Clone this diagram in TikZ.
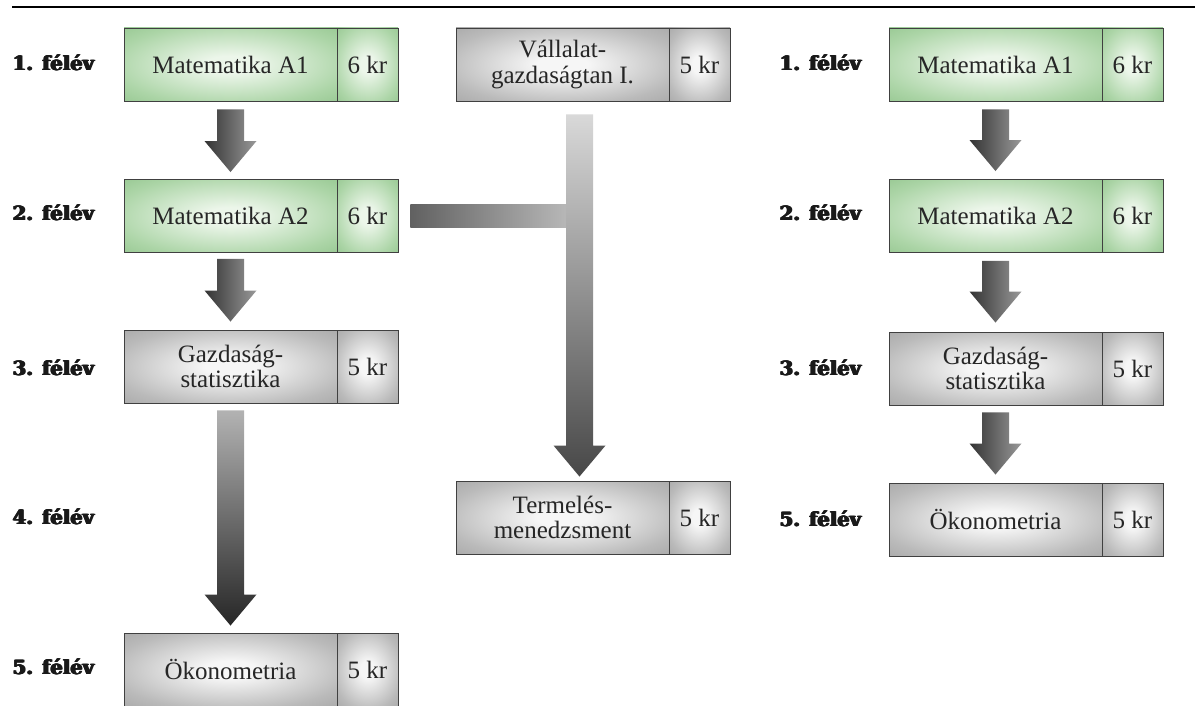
\documentclass[tikz,border=0pt]{standalone}
\usepackage{fontspec}
\setmainfont{Liberation Serif}
\newfontfamily\semfont{DejaVu Serif}[UprightFont={* Bold}]
\usetikzlibrary{calc}

\definecolor{greenin}{RGB}{236,246,234}
\definecolor{greenmid}{RGB}{172,213,167}
\definecolor{greenedge}{RGB}{128,185,123}
\definecolor{greenout}{RGB}{90,152,90}
\definecolor{grayin}{RGB}{246,246,246}
\definecolor{graymid}{RGB}{186,186,186}
\definecolor{grayedge}{RGB}{150,150,150}
\definecolor{grayout}{RGB}{112,112,112}

\pgfdeclareradialshading{greenbox}{\pgfpoint{0bp}{0bp}}{color(0bp)=(greenin); color(6bp)=(greenin);
  color(28bp)=(greenmid); color(47bp)=(greenedge); color(72bp)=(greenout)}
\pgfdeclareradialshading{graybox}{\pgfpoint{0bp}{0bp}}{color(0bp)=(grayin); color(6bp)=(grayin);
  color(28bp)=(graymid); color(47bp)=(grayedge); color(72bp)=(grayout)}

% thicker strokes for the semester labels
\newcommand\heavytext[1]{\rlap{#1}\rlap{\hspace{0.7pt}#1}\rlap{\raisebox{0.6pt}{#1}}%
  \rlap{\hspace{0.7pt}\raisebox{0.6pt}{#1}}\hspace{1.4pt}#1}

\tikzset{
  cell/.style={draw=black!75, line width=0.9pt, minimum height=73pt, inner sep=0pt,
    align=center, text=black!85, font=\fontsize{25}{25.5}\selectfont},
  greencell/.style={cell, shading=greenbox},
  graycell/.style={cell, shading=graybox},
  coursecell/.style={minimum width=213pt},
  krcell/.style={minimum width=61pt},
  semlabel/.style={anchor=west, inner sep=0pt, text=black!90,
    font=\semfont\fontsize{19.5}{19.5}\selectfont},
  blockarrow/.style={to path={let \p1=(\tikztostart), \p2=(\tikztotarget) in
    (\x1-13.5pt,\y1) -- (\x1+13.5pt,\y1) -- (\x1+13.5pt,\y2+31pt) -- (\x1+26pt,\y2+31pt)
    -- (\x1,\y2) -- (\x1-26pt,\y2+31pt) -- (\x1-13.5pt,\y2+31pt) -- cycle}},
  shortarrow/.style={left color=black!80, right color=black!40},
  longarrow/.style={top color=black!30, bottom color=black!85}
}

\begin{document}
\begin{tikzpicture}[x=1pt, y=-1pt]
  \useasboundingbox (0,0) rectangle (1195,706);
  \draw[line width=2.5pt] (12,7) -- (1195,7);

  % semesters, left
  \node[semlabel] (l1) at (12,63) {\heavytext{1. félév}};
  \node[semlabel] (l2) at (12,213) {\heavytext{2. félév}};
  \node[semlabel] (l3) at (12,368) {\heavytext{3. félév}};
  \node[semlabel] (l4) at (12,517) {\heavytext{4. félév}};
  \node[semlabel] (l5) at (12,667) {\heavytext{5. félév}};

  % semesters, right
  \node[semlabel] (r1) at (779,63) {\heavytext{1. félév}};
  \node[semlabel] (r2) at (779,213) {\heavytext{2. félév}};
  \node[semlabel] (r3) at (779,368) {\heavytext{3. félév}};
  \node[semlabel] (r5) at (779,519) {\heavytext{5. félév}};

  % left column
  \node[greencell, coursecell] (ma1) at (230.5,64.5) {Matematika A1};
  \node[greencell, krcell] (ma1kr) at (367.5,64.5) {6 kr};
  \node[greencell, coursecell] (ma2) at (230.5,216) {Matematika A2};
  \node[greencell, krcell] (ma2kr) at (367.5,216) {6 kr};
  \node[graycell, coursecell] (gs) at (230.5,366.5) {Gazdaság-\\statisztika};
  \node[graycell, krcell] (gskr) at (367.5,366.5) {5 kr};
  \node[graycell, coursecell] (ok) at (230.5,669.5) {Ökonometria};
  \node[graycell, krcell] (okkr) at (367.5,669.5) {5 kr};

  % middle column
  \node[graycell, coursecell] (vg) at (562.5,64.5) {Vállalat-\\gazdaságtan I.};
  \node[graycell, krcell] (vgkr) at (699.5,64.5) {5 kr};
  \node[graycell, coursecell] (tm) at (562.5,517.5) {Termelés-\\menedzsment};
  \node[graycell, krcell] (tmkr) at (699.5,517.5) {5 kr};

  % right column
  \node[greencell, coursecell] (rma1) at (995.5,64.5) {Matematika A1};
  \node[greencell, krcell] (rma1kr) at (1132.5,64.5) {6 kr};
  \node[greencell, coursecell] (rma2) at (995.5,216) {Matematika A2};
  \node[greencell, krcell] (rma2kr) at (1132.5,216) {6 kr};
  \node[graycell, coursecell] (rgs) at (995.5,368.5) {Gazdaság-\\statisztika};
  \node[graycell, krcell] (rgskr) at (1132.5,368.5) {5 kr};
  \node[graycell, coursecell] (rok) at (995.5,519.5) {Ökonometria};
  \node[graycell, krcell] (rokkr) at (1132.5,519.5) {5 kr};

  % arrows
  \shade[shortarrow] ($(ma1.south)+(0,8)$) to[blockarrow] ($(ma2.north)+(0,-7)$);
  \shade[shortarrow] ($(ma2.south)+(0,6)$) to[blockarrow] ($(gs.north)+(0,-8)$);
  \shade[longarrow] ($(gs.south)+(0,7)$) to[blockarrow] ($(ok.north)+(0,-7)$);
  \shade[shortarrow] ($(rma1.south)+(0,8)$) to[blockarrow] ($(rma2.north)+(0,-8)$);
  \shade[shortarrow] ($(rma2.south)+(0,8)$) to[blockarrow] ($(rgs.north)+(0,-9)$);
  \shade[shortarrow] ($(rgs.south)+(0,7)$) to[blockarrow] ($(rok.north)+(0,-8)$);
  \shade[left color=black!62, right color=black!28]
    ($(ma2kr.east)+(12,-11.5)$) rectangle ($(ma2kr.east)+(169,11.5)$);
  \shade[top color=black!15, bottom color=black!72]
    ($(vg.south)+(17,13)$) to[blockarrow] ($(tm.north)+(17,-4)$);
\end{tikzpicture}
\end{document}
